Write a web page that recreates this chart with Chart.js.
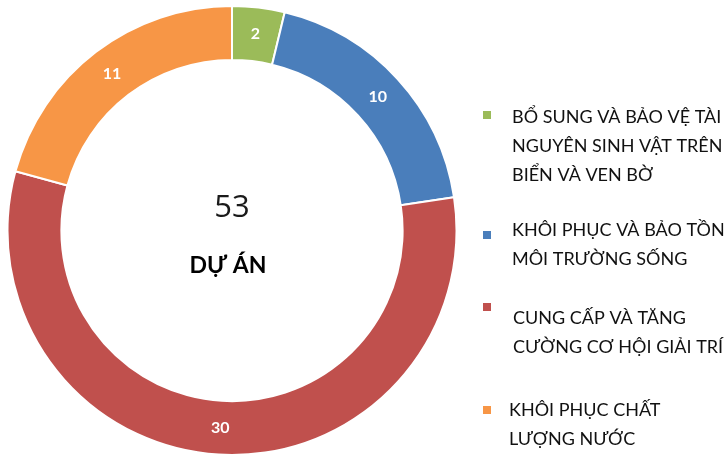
<!DOCTYPE html>
<html>
<head>
<meta charset="utf-8">
<script src="https://cdn.jsdelivr.net/npm/chart.js@4"></script>
<style>
  html, body { margin: 0; padding: 0; background: #fff; }
  canvas { display: block; }
</style>
</head>
<body>
<canvas id="bieuDo" width="727" height="456"></canvas>
<script>
// Du lieu
const nhan = [
  ["BỔ SUNG VÀ BẢO VỆ TÀI", "NGUYÊN SINH VẬT TRÊN", "BIỂN VÀ VEN BỜ"],
  ["KHÔI PHỤC VÀ BẢO TỒN", "MÔI TRƯỜNG SỐNG"],
  ["CUNG CẤP VÀ TĂNG", "CƯỜNG CƠ HỘI GIẢI TRÍ"],
  ["KHÔI PHỤC CHẤT", "LƯỢNG NƯỚC"]
];
const soDuAn = [2, 10, 30, 11];
const mauSac = ["#9BBB59", "#4A7EBB", "#C0504D", "#F79646"];
const tongSo = "53";
const chuGiua = "DỰ ÁN";

const FONT = "Lato, 'Open Sans', sans-serif";

// nhan so tren tung phan
const nhanGiaTri = {
  id: "nhanGiaTri",
  afterDatasetsDraw(chart) {
    const ctx = chart.ctx;
    const meta = chart.getDatasetMeta(0);
    ctx.save();
    ctx.fillStyle = "#fff";
    ctx.font = "bold 16px " + FONT;
    ctx.textAlign = "center";
    ctx.textBaseline = "middle";
    meta.data.forEach((arc, i) => {
      const p = arc.tooltipPosition();
      ctx.fillText(String(soDuAn[i]), p.x, p.y);
    });
    ctx.restore();
  }
};

// chu o giua
const chuTrungTam = {
  id: "chuTrungTam",
  afterDraw(chart) {
    const ctx = chart.ctx;
    const arc = chart.getDatasetMeta(0).data[0];
    ctx.save();
    ctx.textAlign = "center";
    ctx.textBaseline = "middle";
    ctx.fillStyle = "#1a1a1a";
    ctx.font = "31px 'Open Sans', sans-serif";
    ctx.fillText(tongSo, arc.x, arc.y - 22);
    ctx.fillStyle = "#000";
    ctx.font = "bold 23px " + FONT;
    ctx.fillText(chuGiua, arc.x - 4, arc.y + 35);
    ctx.restore();
  }
};

// chu thich ben phai
const chuThich = {
  id: "chuThich",
  afterDraw(chart) {
    const ctx = chart.ctx;
    const viTri = [
      { x: 512, y: 117, oY: 115 },
      { x: 512, y: 230, oY: 235 },
      { x: 513, y: 318, oY: 307 },
      { x: 509, y: 410, oY: 410 }
    ];
    ctx.save();
    ctx.font = "18px " + FONT;
    ctx.textBaseline = "middle";
    ctx.textAlign = "left";
    nhan.forEach((dong, i) => {
      const v = viTri[i];
      ctx.fillStyle = mauSac[i];
      ctx.fillRect(483, v.oY - 4, 8, 8);
      ctx.fillStyle = "#111";
      dong.forEach((t, j) => ctx.fillText(t, v.x, v.y + j * 29));
    });
    ctx.restore();
  }
};

new Chart(document.getElementById("bieuDo"), {
  type: "doughnut",
  data: {
    labels: nhan.map(d => d.join(" ")),
    datasets: [{
      data: soDuAn,
      backgroundColor: mauSac,
      borderColor: "#fff",
      borderWidth: 2
    }]
  },
  options: {
    responsive: false,
    animation: false,
    cutout: "76%",
    layout: { padding: { left: 6, right: 269, top: 5, bottom: 0 } },
    plugins: {
      legend: { display: false },
      tooltip: { enabled: false }
    }
  },
  plugins: [nhanGiaTri, chuTrungTam, chuThich]
});
</script>
</body>
</html>
